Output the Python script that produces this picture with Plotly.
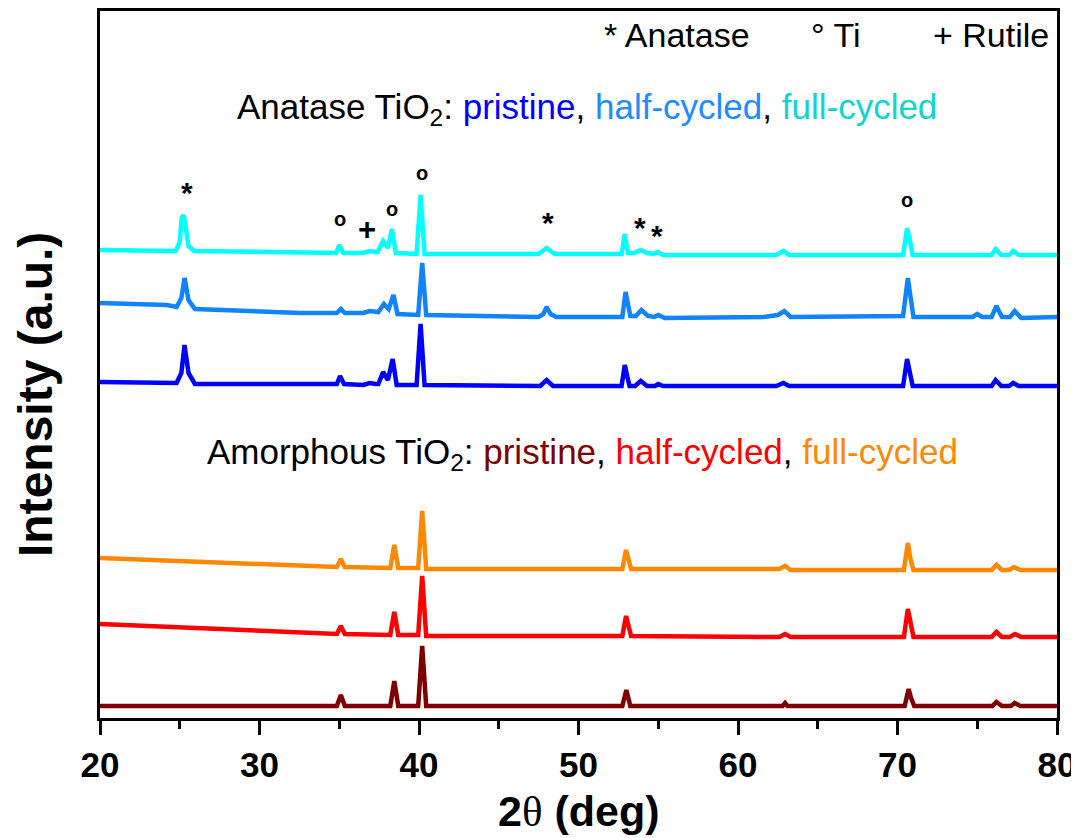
import plotly.graph_objects as go

# ---------------- data (2θ in degrees, intensity in a.u. incl. stacking offset) ----------------
x_ana_full = [20, 24.75, 25.0, 25.12, 25.25, 25.4, 25.55, 25.9, 30, 34.6, 34.8, 35.0, 35.25, 36.5, 36.9, 37.3,
              37.4, 37.75, 38.05, 38.3, 38.55, 39.85, 40.1, 40.35, 45, 47.5, 48.0, 48.5, 52.7, 52.9, 53.1,
              53.5, 53.9, 54.3, 54.7, 54.95, 55.3, 62.4, 62.85, 63.2, 70.35, 70.6, 70.75, 70.95,
              75.9, 76.15, 76.5, 77.0, 77.25, 77.6, 80]
y_ana_full = [468, 467, 476, 500, 503, 485, 472, 467, 466, 465, 465, 473, 465, 465, 467, 466,
              466, 477, 470, 489, 465, 464, 523, 464, 464, 464, 470, 464, 464, 484, 465,
              465, 468, 465, 464, 466, 463, 463, 467, 463, 463, 490, 480, 463,
              463, 469, 463, 463, 467, 463, 463]

x_ana_half = [20, 24.2, 24.8, 25.1, 25.3, 25.55, 25.95, 32.5, 34.85, 35.1, 35.35, 36.5, 36.9, 37.3,
              37.45, 37.8, 38.1, 38.4, 38.65, 39.95, 40.2, 40.45, 45, 47.5, 47.8, 48.0, 48.25, 48.6,
              52.75, 52.95, 53.1, 53.25, 53.6, 53.95, 54.35, 54.75, 55.0, 55.4, 61.6, 62.5, 62.9, 63.3,
              70.35, 70.65, 70.8, 71.0, 74.7, 75.0, 75.3, 75.9, 76.2, 76.55, 77.05, 77.35, 77.75, 80]
y_ana_half = [415, 413, 411, 420, 440, 418, 409, 405, 405, 409, 405, 405, 407, 406,
              406, 414, 409, 423, 404, 403, 455, 403, 401, 401, 404, 411, 404, 401,
              401, 426, 414, 402, 402, 408, 402, 401, 403, 400, 401, 403, 407, 401,
              402, 440, 423, 401, 401, 404, 401, 401, 412, 401, 401, 407, 400, 401]

x_ana_pris = [20, 24.8, 25.1, 25.3, 25.55, 25.95, 30, 34.85, 35.05, 35.3, 36.5, 36.9, 37.3,
              37.45, 37.75, 38.05, 38.35, 38.6, 39.85, 40.1, 40.35, 45, 47.6, 48.0, 48.4,
              52.7, 52.9, 53.05, 53.2, 53.55, 53.9, 54.3, 54.8, 55.0, 55.3, 62.4, 62.85, 63.2,
              70.35, 70.6, 70.75, 70.95, 75.9, 76.15, 76.5, 77.0, 77.25, 77.6, 80]
y_ana_pris = [336, 335, 345, 373, 345, 334, 334, 334, 342, 334, 333, 335, 334,
              334, 346, 338, 359, 333, 333, 394, 333, 332, 332, 338, 332,
              332, 353, 342, 332, 332, 337, 332, 332, 334, 332, 332, 335, 332,
              332, 359, 346, 332, 332, 338, 332, 332, 335, 332, 332]

x_amo_full = [20, 26.3, 30, 34.6, 34.85, 35.1, 35.35, 38.2, 38.45, 38.7, 39.95, 40.2, 40.45, 45,
              52.75, 52.98, 53.12, 53.3, 62.6, 62.95, 63.3, 70.4, 70.65, 70.8, 71.0,
              75.9, 76.2, 76.55, 77.0, 77.3, 77.7, 80]
y_amo_full = [160, 156, 153, 151, 151, 159, 151, 150, 173, 150, 150, 207, 149, 149,
              149, 168, 158, 149, 149, 152, 148, 148, 175, 160, 148,
              148, 153, 148, 148, 151, 148, 148]

x_amo_half = [20, 26.3, 30, 34.6, 34.85, 35.1, 35.35, 38.2, 38.45, 38.7, 39.95, 40.2, 40.45, 45,
              52.75, 52.98, 53.12, 53.3, 62.6, 62.95, 63.3, 70.4, 70.65, 70.82, 71.0,
              75.9, 76.2, 76.55, 77.05, 77.35, 77.75, 80]
y_amo_half = [94, 90, 87, 84, 84, 92, 84, 83, 106, 83, 83, 142, 82, 82,
              82, 102, 92, 82, 81, 84, 81, 81, 109, 94, 81,
              81, 86, 81, 81, 84, 81, 81]

x_amo_pris = [20, 34.85, 35.1, 35.35, 38.2, 38.45, 38.7, 39.95, 40.2, 40.45, 52.75, 53.0, 53.25,
              62.8, 62.95, 63.1, 70.45, 70.7, 70.85, 71.05, 75.95, 76.2, 76.55, 77.1, 77.35, 77.7, 80]
y_amo_pris = [12, 12, 23, 12, 12, 37, 12, 12, 72, 12, 12, 28, 12,
              12, 15, 12, 12, 29, 20, 12, 12, 16, 12, 12, 15, 12, 12]

# peak phase markers
mark_sym = ["*", "o", "+", "o", "o", "*", "*", "*", "o"]
mark_x = [25.47, 35.05, 36.72, 38.3, 40.17, 48.07, 53.88, 54.94, 70.57]
mark_y = [526, 497, 487, 507, 543, 496, 491, 483, 516]

x_ticks = [20, 30, 40, 50, 60, 70, 80]

series = [
    (x_amo_pris, y_amo_pris, "#800000", "Amorphous pristine"),
    (x_amo_half, y_amo_half, "#FF0000", "Amorphous half-cycled"),
    (x_amo_full, y_amo_full, "#FF8800", "Amorphous full-cycled"),
    (x_ana_pris, y_ana_pris, "#0000FF", "Anatase pristine"),
    (x_ana_half, y_ana_half, "#1084FF", "Anatase half-cycled"),
    (x_ana_full, y_ana_full, "#00FFFF", "Anatase full-cycled"),
]

FONT = "Liberation Sans, Arial, sans-serif"

fig = go.Figure()
for xs, ys, col, name in series:
    fig.add_trace(go.Scatter(x=xs, y=ys, mode="lines", name=name,
                             line=dict(color=col, width=4.5), showlegend=False))

ann = []
for s, xm, ym in zip(mark_sym, mark_x, mark_y):
    if s == "*":
        ann.append(dict(x=xm, y=ym, text="*", showarrow=False, xref="x", yref="y", yshift=0,
                        font=dict(family=FONT, size=30, color="black", weight="bold")))
    elif s == "o":
        ann.append(dict(x=xm, y=ym, text="o", showarrow=False, xref="x", yref="y", yshift=2,
                        font=dict(family=FONT, size=20, color="black", weight="bold")))
    else:
        ann.append(dict(x=xm, y=ym, text="+", showarrow=False, xref="x", yref="y", yshift=2,
                        font=dict(family=FONT, size=31, color="black", weight="bold")))

for txt, xl in [("* Anatase", 51.47), ("° Ti", 64.45), ("+ Rutile", 72.1)]:
    ann.append(dict(x=xl, y=683, text=txt, showarrow=False, xref="x", yref="y",
                    xanchor="left", yanchor="middle",
                    font=dict(family=FONT, size=34, color="black")))

ann.append(dict(x=28.46, y=609, xref="x", yref="y", xanchor="left", yanchor="middle", showarrow=False,
                text="Anatase TiO<sub>2</sub>: <span style='color:#0000FF'>pristine</span>, "
                     "<span style='color:#1E8CFF'>half-cycled</span>, "
                     "<span style='color:#10D4D4'>full-cycled</span>",
                font=dict(family=FONT, size=35, color="black")))
ann.append(dict(x=26.58, y=264, xref="x", yref="y", xanchor="left", yanchor="middle", showarrow=False,
                text="Amorphous TiO<sub>2</sub>: <span style='color:#800000'>pristine</span>, "
                     "<span style='color:#FF0000'>half-cycled</span>, "
                     "<span style='color:#FF8800'>full-cycled</span>",
                font=dict(family=FONT, size=35, color="black")))

# axis titles
ann.append(dict(x=0.5, y=0, xref="paper", yref="paper", yshift=-93, xanchor="center", yanchor="middle",
                showarrow=False,
                text="2<span style='font-family:Liberation Serif, serif;font-weight:normal'>θ</span> (deg)",
                font=dict(family=FONT, size=43, color="black", weight="bold")))
ann.append(dict(x=0, y=323, xref="paper", yref="y", xshift=-65, xanchor="center", yanchor="middle",
                showarrow=False, text="Intensity (a.u.)", textangle=-90,
                font=dict(family=FONT, size=48, color="black", weight="bold")))

# page body has an 8px margin: figure is sized/offset to place the plot box as in the reference
fig.update_layout(
    width=1071, height=830,
    margin=dict(l=92, r=22, t=3, b=120),
    paper_bgcolor="white", plot_bgcolor="white",
    annotations=ann,
    xaxis=dict(range=[20, 80], tickvals=x_ticks, ticktext=[str(t) for t in x_ticks],
               ticks="outside", ticklen=14, tickwidth=3, tickcolor="black",
               minor=dict(dtick=5, tick0=20, ticks="outside", ticklen=8, tickwidth=3, tickcolor="black"),
               showline=True, linewidth=3, linecolor="black", mirror=True,
               showgrid=False, zeroline=False, automargin=False,
               tickfont=dict(family=FONT, size=35, color="black", weight="bold")),
    yaxis=dict(range=[0, 707], showticklabels=False, ticks="",
               showline=True, linewidth=3, linecolor="black", mirror=True,
               showgrid=False, zeroline=False, automargin=False),
)

fig.write_html("out.html")
